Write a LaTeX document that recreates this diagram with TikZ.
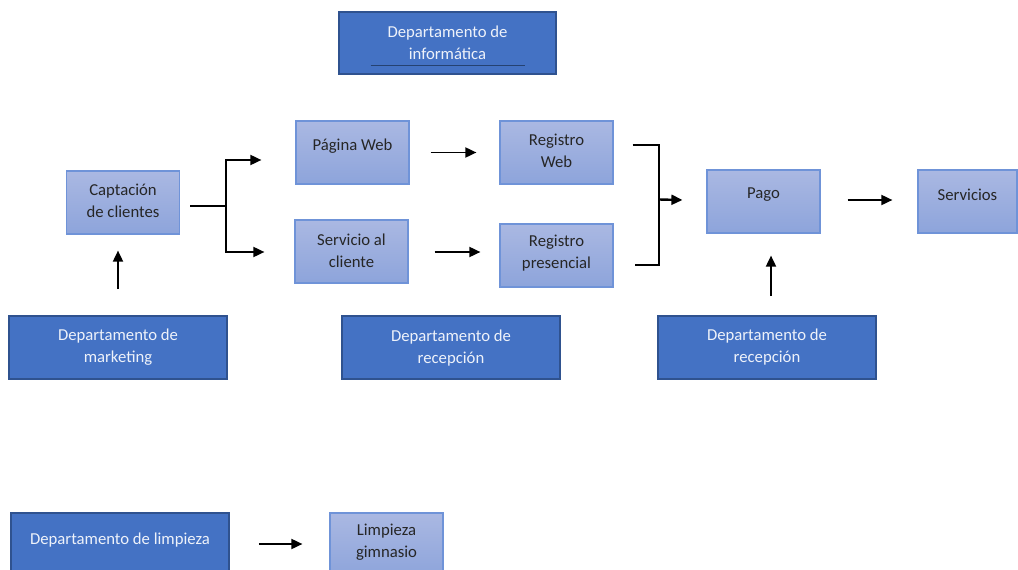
\documentclass[tikz,border=0pt]{standalone}
\usepackage{fontspec}
\setmainfont{Carlito}
\usetikzlibrary{arrows.meta,calc}
\definecolor{lighttop}{HTML}{AAB8E2}
\definecolor{lightbot}{HTML}{8DA4DB}
\definecolor{lightborder}{HTML}{6F93D8}
\definecolor{darkfill}{HTML}{4472C4}
\definecolor{darkborder}{HTML}{2F528F}
\definecolor{darktext}{HTML}{262626}
\definecolor{whitetext}{HTML}{EEF2FA}
\tikzset{
  lbox/.style={rectangle, draw=lightborder, line width=1.2pt, top color=lighttop, bottom color=lightbot, inner sep=0pt},
  dbox/.style={rectangle, draw=darkborder, line width=1.6pt, fill=darkfill, inner sep=0pt},
  ltxt/.style={align=center, text=darktext, inner sep=0pt, font=\fontsize{16.7}{22}\selectfont},
  dtxt/.style={align=center, text=whitetext, inner sep=0pt, font=\fontsize{16.7}{22}\selectfont},
  arr/.style={line width=1.8pt, -{Triangle[length=11pt,width=10pt]}},
  conn/.style={line width=2pt}
}
\begin{document}
\begin{tikzpicture}[x=1pt,y=-1pt]
\clip (0,0) rectangle (1018,570);
\fill[white] (0,0) rectangle (1018,570);

% dark boxes
\node[dbox, minimum width=217pt, minimum height=62pt] (inf) at (447.5,43) {};
\node[dtxt] (tinf) at (447.5,43) {Departamento de\\informática};
\draw[darkborder!80!black, line width=0.8pt] ($(inf.south)+(-77,-9)$) coordinate (ul1) -- ($(inf.south)+(77,-9)$) coordinate (ul2);

\node[dbox, minimum width=218pt, minimum height=63pt] (mkt) at (118,347.5) {};
\node[dtxt] (tmkt) at (118,347.5) {Departamento de\\marketing};

\node[dbox, minimum width=218pt, minimum height=63pt] (rec1) at (451,347.5) {};
\node[dtxt] (trec1) at (451,348.5) {Departamento de\\recepción};

\node[dbox, minimum width=218pt, minimum height=63pt] (rec2) at (767,347.5) {};
\node[dtxt] (trec2) at (767,347.5) {Departamento de\\recepción};

\node[dbox, minimum width=218pt, minimum height=64pt] (lim) at (120,545) {};
\node[dtxt] (tlim) at (120,540) {Departamento de limpieza};

% light boxes
\node[lbox, minimum width=113pt, minimum height=63pt] (cap) at (123,202.5) {};
\node[ltxt] (tcap) at (123,200.5) {Captación\\de clientes};

\node[lbox, minimum width=113pt, minimum height=63pt] (pw) at (352.5,152.5) {};
\node[ltxt] (tpw) at (352.5,146) {Página Web};

\node[lbox, minimum width=113pt, minimum height=63pt] (rw) at (556.5,152.5) {};
\node[ltxt] (trw) at (556.5,150.5) {Registro\\Web};

\node[lbox, minimum width=113pt, minimum height=63pt] (sac) at (351.5,251.5) {};
\node[ltxt] (tsac) at (351.5,251) {Servicio al\\cliente};

\node[lbox, minimum width=113pt, minimum height=63pt] (rp) at (556.5,255.5) {};
\node[ltxt] (trp) at (556.5,253.5) {Registro\\presencial};

\node[lbox, minimum width=113pt, minimum height=63pt] (pago) at (763.5,201.5) {};
\node[ltxt] (tpago) at (763.5,195) {Pago};

\node[lbox, minimum width=99pt, minimum height=63pt] (serv) at (967.5,201.5) {};
\node[ltxt] (tserv) at (967.5,195) {Servicios};

\node[lbox, minimum width=113pt, minimum height=64pt] (gim) at (386.5,545) {};
\node[ltxt] (tgim) at (386.5,542) {Limpieza\\gimnasio};

% connectors
\draw[arr] ($(mkt.north)+(0,-26)$) -- ($(mkt.north |- cap.south)+(0,16)$);

\coordinate (sp) at ($(cap.east)+(46,3.5)$);
\draw[conn] ($(cap.east)+(10,3.5)$) -- (sp);
\draw[arr] (sp) |- ($(pw.west)+(-34,7.5)$);
\draw[arr] (sp) |- ($(sac.west)+(-30,0.5)$);

\draw[arr] ($(pw.east)+(21,0)$) -- ($(rw.west)+(-23,0)$);
\draw[arr] ($(sac.east)+(26,0.5)$) -- ($(rp.west)+(-19,-3.5)$);

\coordinate (br) at ($(rw.east)+(45,47)$);
\draw[conn] ($(rw.east)+(19,-7.5)$) -| ($(rp.east)+(45,9.5)$) -- ($(rp.east)+(21,9.5)$);
\draw[arr, line width=2.4pt] (br) -- ($(pago.west)+(-24,-1.5)$);

\draw[arr] ($(pago.east)+(27,-1.5)$) -- ($(serv.west)+(-25,-1.5)$);
\draw[arr] ($(rec2.north)+(4,-19)$) -- ($(rec2.north |- pago.south)+(4,22)$);
\draw[arr] ($(lim.east)+(29,-1)$) -- ($(gim.west)+(-27,-1)$);
\end{tikzpicture}
\end{document}
